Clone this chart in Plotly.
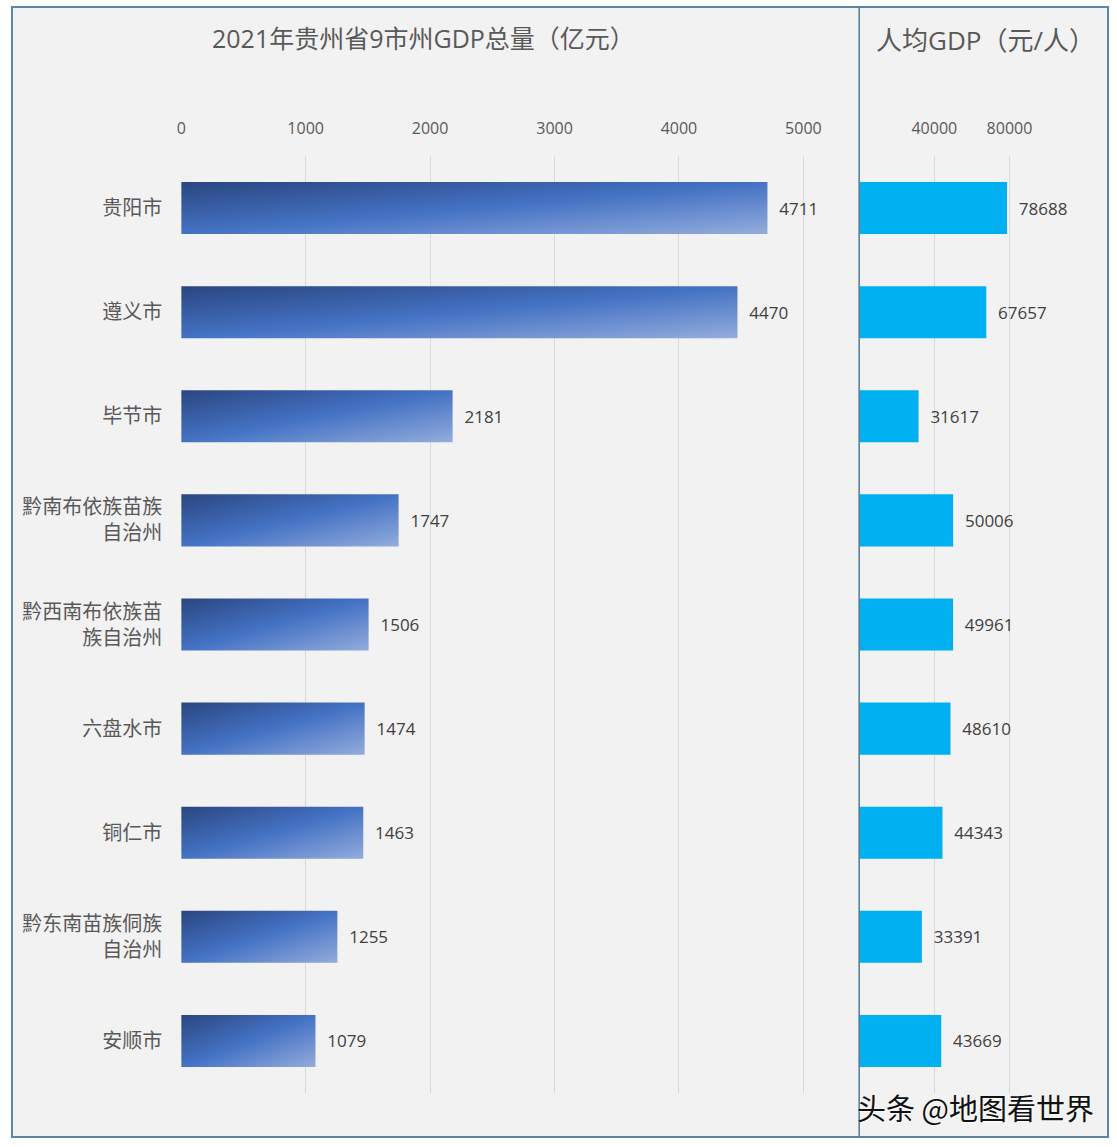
import plotly.graph_objects as go

# ---- data ----
cities = ["贵阳市", "遵义市", "毕节市", "黔南布依族苗族<br>自治州", "黔西南布依族苗<br>族自治州",
          "六盘水市", "铜仁市", "黔东南苗族侗族<br>自治州", "安顺市"]
gdp_total = [4711, 4470, 2181, 1747, 1506, 1474, 1463, 1255, 1079]          # 亿元
gdp_per_capita = [78688, 67657, 31617, 50006, 49961, 48610, 44343, 33391, 43669]  # 元/人
left_ticks = [0, 1000, 2000, 3000, 4000, 5000]
right_ticks = [40000, 80000]

W, H = 1117, 1147
def px(x): return x / W
def py(y): return (H - y) / H

FONT = "Open Sans, Noto Sans CJK SC, sans-serif"
GREY = "#595959"

fig = go.Figure()
fig.add_trace(go.Bar(
    y=cities, x=gdp_total, orientation="h", width=0.5,
    marker=dict(color="#4472c4", line=dict(width=0)),
    text=gdp_total, texttemplate="  %{text}", textposition="outside",
    textfont=dict(size=17, color="#404040", family=FONT),
    cliponaxis=False, xaxis="x", yaxis="y", showlegend=False, hoverinfo="x+y"))
fig.add_trace(go.Bar(
    y=cities, x=gdp_per_capita, orientation="h", width=0.5,
    marker=dict(color="#00b0f0", line=dict(width=0)),
    text=gdp_per_capita, texttemplate="  %{text}", textposition="outside",
    textfont=dict(size=17, color="#404040", family=FONT),
    cliponaxis=False, xaxis="x2", yaxis="y2", showlegend=False, hoverinfo="x+y"))

ydom = [py(1093), py(156)]
fig.update_layout(
    width=W, height=H,
    margin=dict(l=0, r=0, t=0, b=0),
    paper_bgcolor="white", plot_bgcolor="rgba(0,0,0,0)",
    font=dict(family=FONT, color=GREY),
    xaxis=dict(domain=[px(177), px(858)], range=[0, 5448], side="top",
               tickvals=left_ticks, tickformat="d", showgrid=True, gridcolor="#d9d9d9", gridwidth=1,
               zeroline=False, showline=False, ticks="", ticklabelstandoff=18,
               tickfont=dict(size=16, color=GREY, family=FONT)),
    yaxis=dict(domain=ydom, categoryorder="array", categoryarray=cities,
               autorange="reversed", showgrid=False, zeroline=False, showline=False,
               ticks="", ticklabelstandoff=18,
               tickfont=dict(size=20, color=GREY, family=FONT)),
    xaxis2=dict(domain=[px(858), px(1108)], range=[0, 132450], side="top", anchor="y2",
                tickvals=right_ticks, tickformat="d", showgrid=True, gridcolor="#d9d9d9", gridwidth=1,
                zeroline=False, showline=False, ticks="", ticklabelstandoff=18,
                tickfont=dict(size=16, color=GREY, family=FONT)),
    yaxis2=dict(domain=ydom, anchor="x2", matches="y", showticklabels=False,
                showgrid=False, zeroline=False, showline=False),
    bargap=0.5,
    shapes=[
        dict(type="rect", xref="paper", yref="paper", x0=px(7), x1=px(1108), y0=py(1137), y1=py(7),
             line=dict(color="#5f84a2", width=2), fillcolor="#f2f2f2", layer="below"),
        dict(type="line", xref="paper", yref="paper", x0=px(858), x1=px(858), y0=py(1137), y1=py(7),
             line=dict(color="#4f7c96", width=1.5), layer="above"),
    ],
    annotations=[
        dict(text="2021年贵州省9市州GDP总量（亿元）", xref="paper", yref="paper",
             x=px(420), y=py(38), xanchor="center", yanchor="middle", showarrow=False,
             font=dict(size=25, color=GREY, family=FONT)),
        dict(text="人均GDP（元/人）", xref="paper", yref="paper",
             x=px(985), y=py(40), xanchor="center", yanchor="middle", showarrow=False,
             font=dict(size=26, color=GREY, family=FONT)),
        dict(text="头条 @地图看世界", xref="paper", yref="paper",
             x=px(975), y=py(1107), xanchor="center", yanchor="middle", showarrow=False,
             font=dict(size=29, color="#111111", family="Noto Sans CJK SC, sans-serif",
                       shadow="1px 1px 1px #ffffff")),
    ],
)

post_js = """
document.body.style.margin = '0';
document.documentElement.style.overflow = 'hidden';
var gd = document.getElementById('{plot_id}');
var svg = gd.querySelector('svg.main-svg');
var ns = 'http://www.w3.org/2000/svg';
var defs = svg.querySelector('defs');
if (!defs) { defs = document.createElementNS(ns, 'defs'); svg.insertBefore(defs, svg.firstChild); }
var lg = document.createElementNS(ns, 'linearGradient');
lg.setAttribute('id', 'bargradgdp');
lg.setAttribute('x1', '0'); lg.setAttribute('y1', '0');
lg.setAttribute('x2', '1'); lg.setAttribute('y2', '1');
[['0', '#2a4680'], ['0.5', '#4472c4'], ['1', '#93acdc']].forEach(function(s) {
  var st = document.createElementNS(ns, 'stop');
  st.setAttribute('offset', s[0]); st.setAttribute('stop-color', s[1]);
  lg.appendChild(st);
});
defs.appendChild(lg);
gd.querySelectorAll('.subplot.xy .barlayer .point path').forEach(function(p) {
  p.style.fill = 'url(#bargradgdp)';
});
"""

fig.write_html("out.html", post_script=post_js, config={"displayModeBar": False})
